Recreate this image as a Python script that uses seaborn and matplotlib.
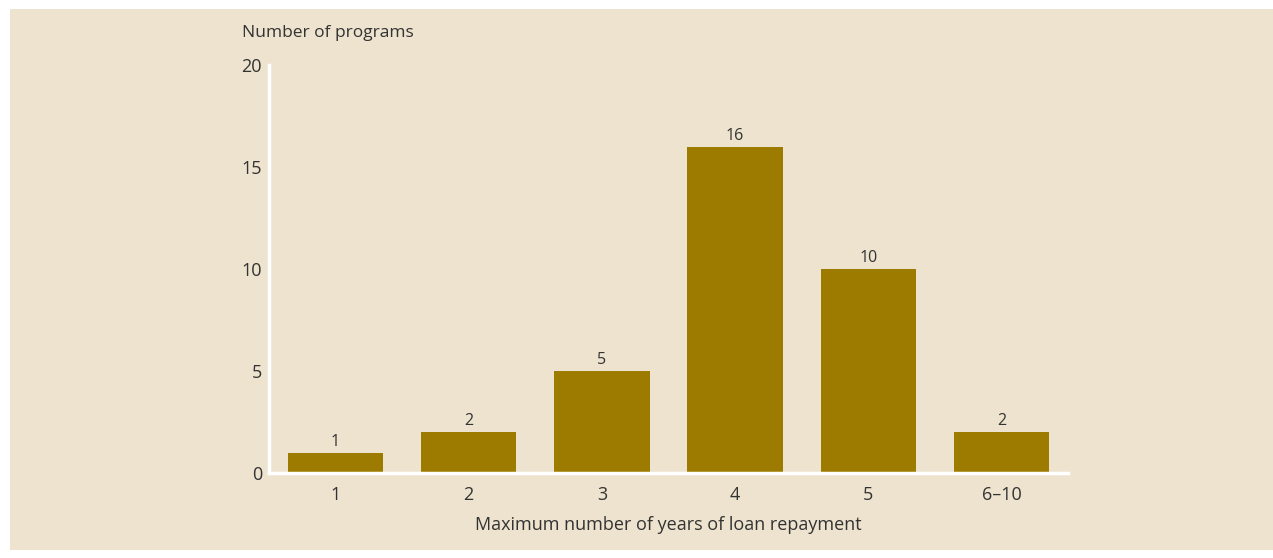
import matplotlib
matplotlib.use("Agg")
import matplotlib.pyplot as plt
from matplotlib.patches import Rectangle
import seaborn as sns
import pandas as pd

categories = ["1", "2", "3", "4", "5", "6\u201310"]
values = [1, 2, 5, 16, 10, 2]
yticks = [0, 5, 10, 15, 20]

BG = "#EDE3CE"
BAR = "#9C7B00"
TXT = "#333333"

sns.set_theme(style="white")
plt.rcParams["font.family"] = ["Open Sans", "DejaVu Sans"]

W, H = 1273, 558
fig = plt.figure(figsize=(W / 100, H / 100), dpi=100, facecolor="white")
fig.patches.append(Rectangle((10 / W, 1 - 550 / H), (W - 10) / W, (550 - 9) / H,
                             transform=fig.transFigure, facecolor=BG, edgecolor="none", zorder=-10))

ax_l, ax_r, ax_t, ax_b = 269, 1068, 65, 473
ax = fig.add_axes([ax_l / W, 1 - ax_b / H, (ax_r - ax_l) / W, (ax_b - ax_t) / H])
ax.set_zorder(5)
ax.set_facecolor("none")

df = pd.DataFrame({"cat": categories, "val": values})
sns.barplot(data=df, x="cat", y="val", color=BAR, saturation=1, width=0.715,
            edgecolor="none", linewidth=0, ax=ax)

ax.set_xlim(-0.5, 5.5)
ax.set_ylim(0, 20)
ax.set_yticks(yticks)
ax.tick_params(axis="both", length=0, colors=TXT, labelsize=13)
ax.tick_params(axis="x", pad=9)
ax.tick_params(axis="y", pad=5)
for sp in ["top", "right"]:
    ax.spines[sp].set_visible(False)
for sp in ["left", "bottom"]:
    ax.spines[sp].set_color("white")
    ax.spines[sp].set_linewidth(2.5)
ax.grid(False)

for c in ax.containers:
    ax.bar_label(c, labels=[str(v) for v in values], padding=2, fontsize=11.5, color=TXT)

ax.set_xlabel("Maximum number of years of loan repayment", fontsize=13, color=TXT, labelpad=9)
ax.set_ylabel("")
fig.text(242 / W, 1 - 33 / H, "Number of programs", fontsize=12.5, color=TXT,
         ha="left", va="center")

fig.savefig("out.png", dpi=100, facecolor="white")
